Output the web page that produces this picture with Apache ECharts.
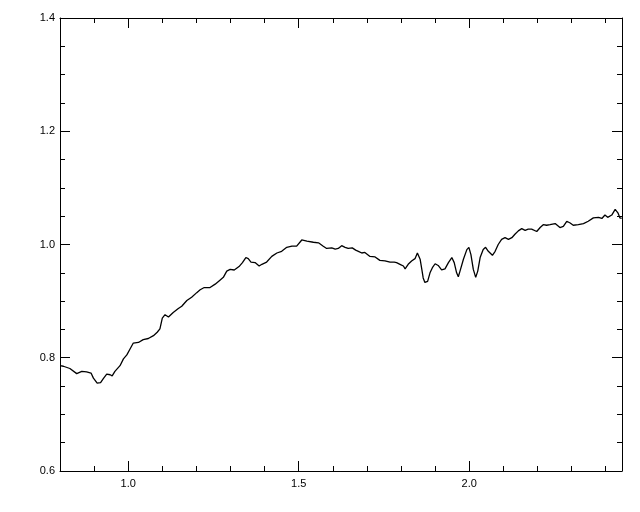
<!DOCTYPE html>
<html>
<head>
<meta charset="utf-8">
<script src="https://cdn.jsdelivr.net/npm/echarts@6/dist/echarts.min.js"></script>
<style>
html,body{margin:0;padding:0;background:#fff;}
#chart{width:640px;height:512px;}
</style>
</head>
<body>
<div id="chart"></div>
<script>
var wavelength = [0.800,0.810,0.829,0.849,0.864,0.878,0.891,0.898,0.909,0.919,0.927,0.937,0.947,0.953,0.961,0.976,0.986,0.996,1.005,1.015,1.030,1.044,1.059,1.074,1.085,1.093,1.100,1.108,1.118,1.132,1.147,1.157,1.172,1.186,1.201,1.211,1.223,1.240,1.255,1.269,1.279,1.289,1.299,1.311,1.325,1.335,1.345,1.352,1.360,1.372,1.384,1.392,1.406,1.421,1.436,1.450,1.465,1.480,1.494,1.509,1.524,1.543,1.558,1.572,1.582,1.597,1.607,1.616,1.626,1.636,1.645,1.657,1.667,1.675,1.685,1.694,1.709,1.724,1.738,1.753,1.768,1.780,1.787,1.797,1.807,1.812,1.821,1.831,1.841,1.848,1.853,1.856,1.861,1.865,1.870,1.878,1.885,1.892,1.900,1.909,1.919,1.929,1.939,1.949,1.956,1.963,1.968,1.973,1.983,1.993,1.999,2.005,2.012,2.019,2.025,2.032,2.041,2.048,2.056,2.068,2.076,2.085,2.095,2.105,2.115,2.125,2.134,2.144,2.154,2.164,2.173,2.183,2.198,2.208,2.217,2.227,2.237,2.252,2.266,2.276,2.286,2.296,2.305,2.320,2.335,2.349,2.364,2.379,2.389,2.398,2.406,2.418,2.428,2.436,2.442,2.447];
var flux = [0.786,0.785,0.781,0.772,0.776,0.775,0.773,0.764,0.755,0.756,0.763,0.771,0.770,0.768,0.776,0.786,0.798,0.805,0.815,0.826,0.827,0.832,0.834,0.839,0.845,0.851,0.870,0.876,0.872,0.880,0.887,0.891,0.901,0.907,0.915,0.920,0.924,0.924,0.930,0.937,0.942,0.953,0.956,0.955,0.961,0.968,0.977,0.975,0.969,0.968,0.962,0.965,0.969,0.979,0.985,0.988,0.995,0.997,0.997,1.008,1.006,1.004,1.003,0.997,0.993,0.994,0.992,0.993,0.998,0.995,0.993,0.994,0.990,0.988,0.985,0.986,0.979,0.978,0.972,0.971,0.969,0.969,0.968,0.965,0.962,0.957,0.965,0.971,0.975,0.985,0.988,0.974,0.956,0.941,0.933,0.935,0.950,0.959,0.966,0.963,0.955,0.957,0.968,0.977,0.968,0.950,0.943,0.953,0.974,0.991,0.995,0.982,0.956,0.942,0.953,0.977,0.991,0.995,0.988,0.981,0.988,1.000,1.009,1.012,1.009,1.012,1.018,1.024,1.028,1.025,1.027,1.027,1.023,1.030,1.035,1.034,1.035,1.037,1.030,1.032,1.041,1.038,1.034,1.035,1.037,1.041,1.047,1.048,1.046,1.052,1.048,1.052,1.062,1.056,1.047,1.046];
var xMajorTicks = [1.0, 1.5, 2.0];
var xMin = 0.8, xMax = 2.448, yMin = 0.6, yMax = 1.4;

var font = {color:'#000', fontSize:11, fontFamily:'Liberation Sans, Arial, sans-serif'};
function xAx(pos, major, labels){
  return {
    type:'value', position:pos, min:xMin, max:xMax, interval:0.1,
    axisLine:{show:!major, onZero:false, lineStyle:{color:'#000', width:1}},
    axisTick: major ? {show:true, inside:true, length:10, customValues:xMajorTicks, lineStyle:{color:'#000'}}
                    : {show:true, inside:true, length:5, lineStyle:{color:'#000'}},
    axisLabel: labels ? Object.assign({show:true, margin:7, customValues:xMajorTicks, formatter:function(v){return v.toFixed(1);}}, font) : {show:false},
    splitLine:{show:false}
  };
}
function yAx(pos, labels){
  return {
    type:'value', position:pos, min:yMin, max:yMax, interval:0.2,
    axisLine:{show:true, onZero:false, lineStyle:{color:'#000', width:1}},
    axisTick:{show:true, inside:true, length:10, lineStyle:{color:'#000'}},
    minorTick:{show:true, splitNumber:4, length:5, lineStyle:{color:'#000'}},
    axisLabel: labels ? Object.assign({show:true, margin:5, formatter:function(v){return v.toFixed(1);}}, font) : {show:false},
    splitLine:{show:false}, minorSplitLine:{show:false}
  };
}
var pts = wavelength.map(function(w,i){return [w, flux[i]];});
var chart = echarts.init(document.getElementById('chart'), null, {renderer:'canvas'});
chart.setOption({
  backgroundColor:'#fff',
  animation:false,
  grid:{left:60, right:18, top:18, bottom:41},
  xAxis:[xAx('bottom', false, true), xAx('bottom', true, false), xAx('top', false, false), xAx('top', true, false)],
  yAxis:[yAx('left', true), yAx('right', false)],
  series:[{
    type:'line', data:pts, xAxisIndex:0, yAxisIndex:0,
    showSymbol:false, symbol:'none',
    lineStyle:{color:'#000', width:1.3}
  }]
});
</script>
</body>
</html>
